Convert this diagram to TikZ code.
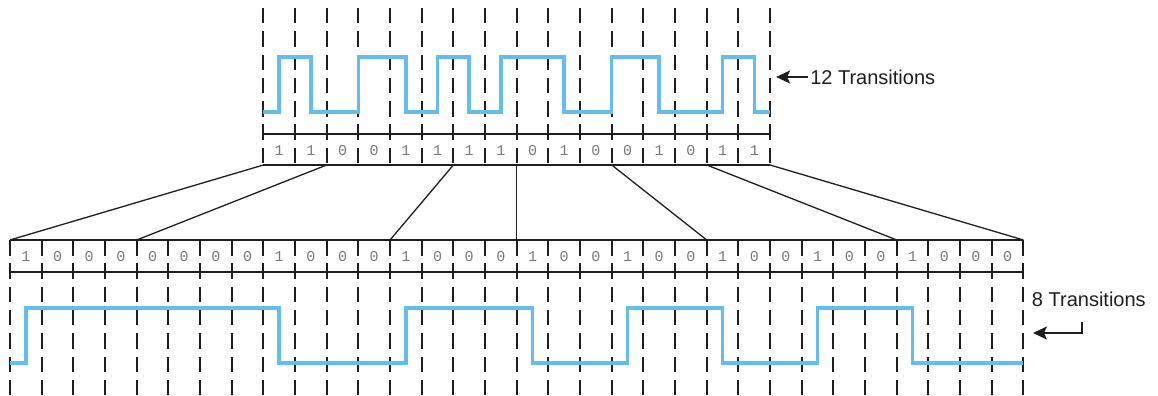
\documentclass[tikz,border=0pt]{standalone}
\usepackage{fontspec}
\setmainfont{Liberation Sans}
\newfontfamily\bitfont{Liberation Mono}
\usetikzlibrary{arrows.meta}
\definecolor{wireblue}{RGB}{98,190,238}
\definecolor{bitgray}{RGB}{120,120,120}
\definecolor{griddark}{RGB}{30,30,30}

\begin{document}
\begin{tikzpicture}[x=31.67pt, y=-1pt,
    clockline/.style={griddark, line width=2pt, dash pattern=on 15.5pt off 7.8pt},
    rowline/.style={griddark, line width=1.8pt},
    wave/.style={wireblue, line width=3.5pt},
    bit/.style={text=bitgray, font=\bitfont\fontsize{15}{15}\selectfont, inner sep=0pt},
    lbl/.style={text=griddark, font=\fontsize{20}{24}\selectfont, inner sep=2pt},
    arr/.style={griddark, line width=1.8pt, -{Stealth[length=14pt,width=13pt,inset=3pt]}}]
\useasboundingbox (-0.3158,0) rectangle (36.249,396);

% Clock lines
\foreach \k in {8,...,24}
    \draw[clockline] (\k,8) -- (\k,165);
\foreach \k in {0,...,32}
    \draw[clockline] (\k,240) -- (\k,396);

% Bit rows
\draw[griddark, line width=1.6pt] (8,134) -- (24,134);
\draw[griddark, line width=2.4pt] (8,165) -- (24,165);
\draw[rowline] (0,240) -- (32,240);
\draw[rowline] (0,272) -- (32,272);

\foreach \b [count=\i from 0] in {1,1,0,0,1,1,1,1,0,1,0,0,1,0,1,1}
    \node[bit] (top\i) at (8.5+\i,150.5) {\b};
\foreach \b [count=\i from 0] in {1,0,0,0,0,0,0,0,1,0,0,0,1,0,0,0,1,0,0,1,0,0,1,0,0,1,0,0,1,0,0,0}
    \node[bit] (bot\i) at (0.5+\i,257) {\b};

% Group boundaries
\foreach \k in {0,...,16}
    \coordinate (tp\k) at (8+\k,165);
\foreach \k in {0,...,32}
    \coordinate (bp\k) at (\k,240);
\foreach \t/\b in {0/0,2/4,6/12,8/16,11/22,14/28,16/32}
    \draw[griddark, line width=1.3pt] (tp\t) -- (bp\b);

% Waveforms
\draw[wave] (8,112) \foreach \x/\y in {8.5/57,9.5/112,11/57,12.5/112,13.5/57,14.5/112,
    15.5/57,17.5/112,19/57,20.5/112,22.5/57,23.5/112} { -| (\x,\y) } -- (24,112);
\draw[wave] (0,363) \foreach \x/\y in {0.5/308,8.5/363,12.5/308,16.5/363,19.5/308,
    22.5/363,25.5/308,28.5/363} { -| (\x,\y) } -- (32,363);

% Labels
\node[lbl, anchor=west] (toplbl) at (25.2,77) {12 Transitions};
\coordinate (toptip) at (24.19,77);
\draw[arr] (toplbl.west) -- (toptip);

\node[lbl, anchor=west] (botlbl) at (32.2,299) {8 Transitions};
\coordinate (botbend) at (33.84,321.5);
\coordinate (bottip) at (32.3,333);
\draw[arr] (botbend) |- (bottip);
\end{tikzpicture}
\end{document}
